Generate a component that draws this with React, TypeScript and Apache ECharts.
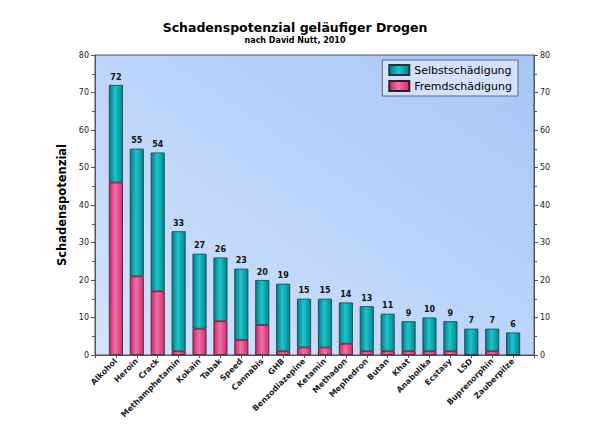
import React, { useEffect, useRef } from "react";
import * as echarts from "echarts";

const categories = [
  "Alkohol", "Heroin", "Crack", "Methamphetamin", "Kokain", "Tabak", "Speed",
  "Cannabis", "GHB", "Benzodiazepine", "Ketamin", "Methadon", "Mephedron",
  "Butan", "Khat", "Anabolika", "Ecstasy", "LSD", "Buprenorphin", "Zauberpilze",
];
const selbst = [26, 34, 37, 32, 20, 17, 19, 12, 18, 13, 13, 11, 12, 10, 8, 9, 8, 7, 6, 6];
const fremd = [46, 21, 17, 1, 7, 9, 4, 8, 1, 2, 2, 3, 1, 1, 1, 1, 1, 0, 1, 0];
const totals = [72, 55, 54, 33, 27, 26, 23, 20, 19, 15, 15, 14, 13, 11, 9, 10, 9, 7, 7, 6];
const yTicks = [0, 10, 20, 30, 40, 50, 60, 70, 80];

const FONT = "DejaVu Sans";

export default function App() {
  const ref = useRef<HTMLDivElement>(null);
  useEffect(() => {
    if (!ref.current) return;
    const chart = echarts.init(ref.current, undefined, { renderer: "svg" });
    const teal = new echarts.graphic.LinearGradient(0, 0, 1, 0, [
      { offset: 0, color: "#007d85" },
      { offset: 0.45, color: "#1fc3cb" },
      { offset: 1, color: "#00868e" },
    ]);
    const pink = new echarts.graphic.LinearGradient(0, 0, 1, 0, [
      { offset: 0, color: "#c42668" },
      { offset: 0.45, color: "#f26fa6" },
      { offset: 1, color: "#cc2f70" },
    ]);
    const bg = new echarts.graphic.LinearGradient(0, 1, 1, 0, [
      { offset: 0, color: "#d3e3fc" },
      { offset: 1, color: "#a6c6f7" },
    ]);
    // pad with an empty slot on each side so bars sit one slot in from the frame
    const cats = ["", ...categories, ""];
    const pad = (arr: number[]) => [null, ...arr, null];
    const yAxisCommon = {
      type: "value" as const,
      min: yTicks[0],
      max: yTicks[yTicks.length - 1],
      interval: 10,
      splitLine: { show: false },
      axisLine: { show: true, lineStyle: { color: "#555", width: 1 } },
      axisTick: { show: true, length: 4, lineStyle: { color: "#555" } },
      minorTick: { show: true, splitNumber: 2, length: 3, lineStyle: { color: "#555" } },
      axisLabel: { fontSize: 8, color: "#222", fontFamily: FONT, margin: 6 },
    };
    chart.setOption({
      animation: false,
      backgroundColor: "#ffffff",
      title: {
        text: "Schadenspotenzial geläufiger Drogen",
        subtext: "nach David Nutt, 2010",
        left: 290,
        textAlign: "center",
        top: 16,
        itemGap: 2,
        textStyle: { fontSize: 12.5, fontWeight: "bold", color: "#000", fontFamily: FONT },
        subtextStyle: { fontSize: 8, fontWeight: "bold", color: "#000", fontFamily: FONT },
      },
      legend: {
        data: ["Selbstschädigung", "Fremdschädigung"],
        orient: "vertical",
        right: 90,
        top: 60,
        icon: "rect",
        itemWidth: 20,
        itemHeight: 10,
        itemGap: 4,
        padding: [4, 6, 4, 6],
        backgroundColor: "rgba(214,228,252,0.9)",
        borderColor: "#666",
        borderWidth: 1,
        borderRadius: 0,
        textStyle: { fontSize: 11, color: "#000", fontFamily: FONT },
      },
      grid: {
        left: 95,
        right: 74,
        top: 55,
        bottom: 76,
        show: true,
        backgroundColor: bg,
        borderColor: "#555",
        borderWidth: 1,
      },
      xAxis: {
        type: "category",
        data: cats,
        boundaryGap: false,
        axisLine: { lineStyle: { color: "#555" } },
        axisTick: { show: true, length: 3, interval: 0, lineStyle: { color: "#555" } },
        axisLabel: {
          rotate: 45,
          interval: 0,
          fontSize: 8,
          fontWeight: "bold",
          color: "#222",
          fontFamily: FONT,
          margin: 5,
        },
      },
      yAxis: [
        {
          ...yAxisCommon,
          position: "left",
          name: "Schadenspotenzial",
          nameLocation: "middle",
          nameGap: 26,
          nameTextStyle: { fontSize: 11.5, fontWeight: "bold", color: "#000", fontFamily: FONT },
        },
        { ...yAxisCommon, position: "right" },
      ],
      series: [
        {
          name: "Fremdschädigung",
          type: "bar",
          stack: "total",
          data: pad(fremd),
          barWidth: 14,
          itemStyle: { color: pink, borderColor: "#3a1a2a", borderWidth: 0.8 },
        },
        {
          name: "Selbstschädigung",
          type: "bar",
          stack: "total",
          data: pad(selbst),
          barWidth: 14,
          itemStyle: { color: teal, borderColor: "#1d3a3c", borderWidth: 0.8 },
          label: {
            show: true,
            position: "top",
            distance: 4,
            fontSize: 8,
            fontWeight: "bold",
            color: "#111",
            fontFamily: FONT,
            formatter: (p: any) => String(totals[p.dataIndex - 1] ?? ""),
          },
        },
      ],
    });
    return () => chart.dispose();
  }, []);
  return (
    <div
      ref={ref}
      style={{ position: "fixed", left: 0, top: 0, width: 608, height: 431 }}
    />
  );
}
